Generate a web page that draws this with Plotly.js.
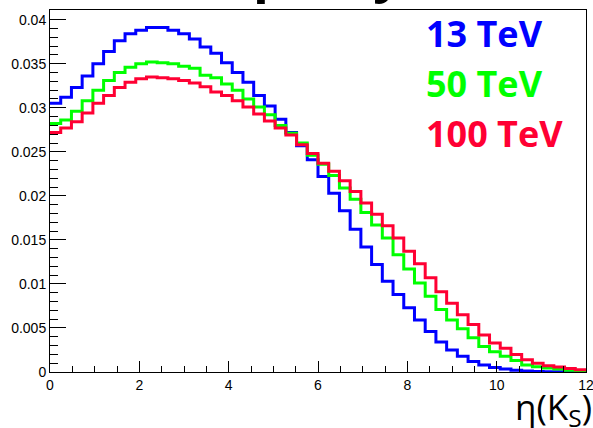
<!DOCTYPE html>
<html>
<head>
<meta charset="utf-8">
<script src="https://cdn.plot.ly/plotly-3.0.1.min.js"></script>
<style>html,body{margin:0;padding:0;background:#fff;}#chart{width:593px;height:428px;}</style>
</head>
<body>
<div id="chart"></div>
<script>
// bin edges of the eta(K_S) histogram (50 bins, 0 to 12)
const binEdges = [0,0.24,0.48,0.72,0.96,1.2,1.44,1.68,1.92,2.16,2.4,2.64,2.88,3.12,3.36,3.6,3.84,4.08,4.32,4.56,4.8,5.04,5.28,5.52,5.76,6,6.24,6.48,6.72,6.96,7.2,7.44,7.68,7.92,8.16,8.4,8.64,8.88,9.12,9.36,9.6,9.84,10.08,10.32,10.56,10.8,11.04,11.28,11.52,11.76,12];

const seriesNames = ["13 TeV", "50 TeV", "100 TeV"];

const tev13 = [0.0305,0.0312,0.0323,0.0336,0.0350,0.0364,0.0376,0.0384,0.0388,0.0391,
               0.0391,0.0388,0.0384,0.0378,0.0369,0.0362,0.0351,0.0340,0.0329,0.0314,
               0.0302,0.0287,0.0272,0.0257,0.0241,0.0222,0.0203,0.0183,0.0162,0.0142,
               0.0122,0.0103,0.0088,0.0073,0.0059,0.0046,0.0034,0.0025,0.0018,0.0012,
               0.0008,0.0005,0.00034,0.0002,0.00012,0.00007,0.00004,0.00002,0.00001,0.00001];

const tev50 = [0.0282,0.0286,0.0296,0.0308,0.0320,0.0331,0.0340,0.0346,0.0350,0.0352,
               0.0351,0.0350,0.0347,0.0345,0.0337,0.0334,0.0327,0.0320,0.0310,0.0301,
               0.0292,0.0280,0.0271,0.0260,0.0246,0.0236,0.0223,0.0209,0.0196,0.0181,
               0.0167,0.0152,0.0133,0.0117,0.0101,0.0086,0.0071,0.0059,0.0049,0.0039,
               0.0029,0.0023,0.0018,0.0013,0.0008,0.0006,0.00045,0.00034,0.0002,0.0001];

const tev100 = [0.0272,0.0277,0.0284,0.0294,0.0305,0.0314,0.0323,0.0329,0.0333,0.0335,
                0.0334,0.0333,0.0331,0.0328,0.0324,0.0318,0.0314,0.0308,0.0301,0.0293,
                0.0285,0.0277,0.0269,0.0258,0.0248,0.0237,0.0228,0.0217,0.0205,0.0192,
                0.0179,0.0166,0.0152,0.0137,0.0123,0.0107,0.0091,0.0078,0.0065,0.0054,
                0.0042,0.0033,0.0027,0.0020,0.0014,0.0010,0.0007,0.00057,0.0004,0.00026];

const yTickVals = [0,0.005,0.01,0.015,0.02,0.025,0.03,0.035,0.04];
const yTickText = ["0","0.005","0.01","0.015","0.02","0.025","0.03","0.035","0.04"];
const xTickVals = [0,2,4,6,8,10,12];
const xTickText = ["0","2","4","6","8","10","12"];

const colors = ["#0000ff", "#00ff00", "#ff0033"];
const allSeries = [tev13, tev50, tev100];

function histTrace(vals, color, name) {
  return {
    x: binEdges,
    y: vals.concat([vals[vals.length - 1]]),
    type: "scatter",
    mode: "lines",
    name: name,
    line: {shape: "hv", color: color, width: 3},
    hoverinfo: "skip"
  };
}

const data = allSeries.map((s, i) => histTrace(s, colors[i], seriesNames[i]));

const legendTop = [1.0077, 0.8696, 0.7315];
const annotations = seriesNames.map((n, i) => ({
  text: n, xref: "paper", yref: "paper", x: 0.698, y: legendTop[i],
  xanchor: "left", yanchor: "top", showarrow: false,
  font: {family: "Open Sans", size: 36, color: colors[i], weight: 700}
}));
annotations.push({
  text: "η(K<sub>S</sub>)", xref: "paper", yref: "paper", x: 1.014, y: -0.178,
  xanchor: "right", yanchor: "bottom", showarrow: false,
  font: {family: "Open Sans", size: 35, color: "#000"}
});
annotations.push({
  text: "rapidity", xref: "paper", yref: "paper", x: 0.468, y: 1.0065,
  xanchor: "center", yanchor: "bottom", showarrow: false,
  font: {family: "Open Sans", size: 52, color: "#000", weight: 700}
});

const axisCommon = {
  showgrid: false, zeroline: false, showline: true, linecolor: "#000", linewidth: 1,
  mirror: true, ticks: "inside", tickcolor: "#000", tickwidth: 1,
  ticklabeloverflow: "allow",
  tickfont: {family: "Liberation Sans, Arial, sans-serif", size: 14, color: "#000"}
};

const layout = {
  width: 593, height: 428,
  margin: {l: 50, r: 7, t: 10, b: 56},
  paper_bgcolor: "#fff", plot_bgcolor: "#fff",
  showlegend: false,
  xaxis: Object.assign({}, axisCommon, {
    range: [0, 12], tickmode: "array", tickvals: xTickVals, ticktext: xTickText, ticklen: 11,
    minor: {tickmode: "linear", tick0: 0, dtick: 0.5, ticks: "inside", ticklen: 6, tickcolor: "#000", tickwidth: 1, showgrid: false}
  }),
  yaxis: Object.assign({}, axisCommon, {
    range: [0, 0.0411], tickmode: "array", tickvals: yTickVals, ticktext: yTickText, ticklen: 16,
    minor: {tickmode: "linear", tick0: 0, dtick: 0.001, ticks: "inside", ticklen: 8, tickcolor: "#000", tickwidth: 1, showgrid: false}
  }),
  annotations: annotations
};

Plotly.newPlot("chart", data, layout, {displayModeBar: false, staticPlot: true});
</script>
</body>
</html>
